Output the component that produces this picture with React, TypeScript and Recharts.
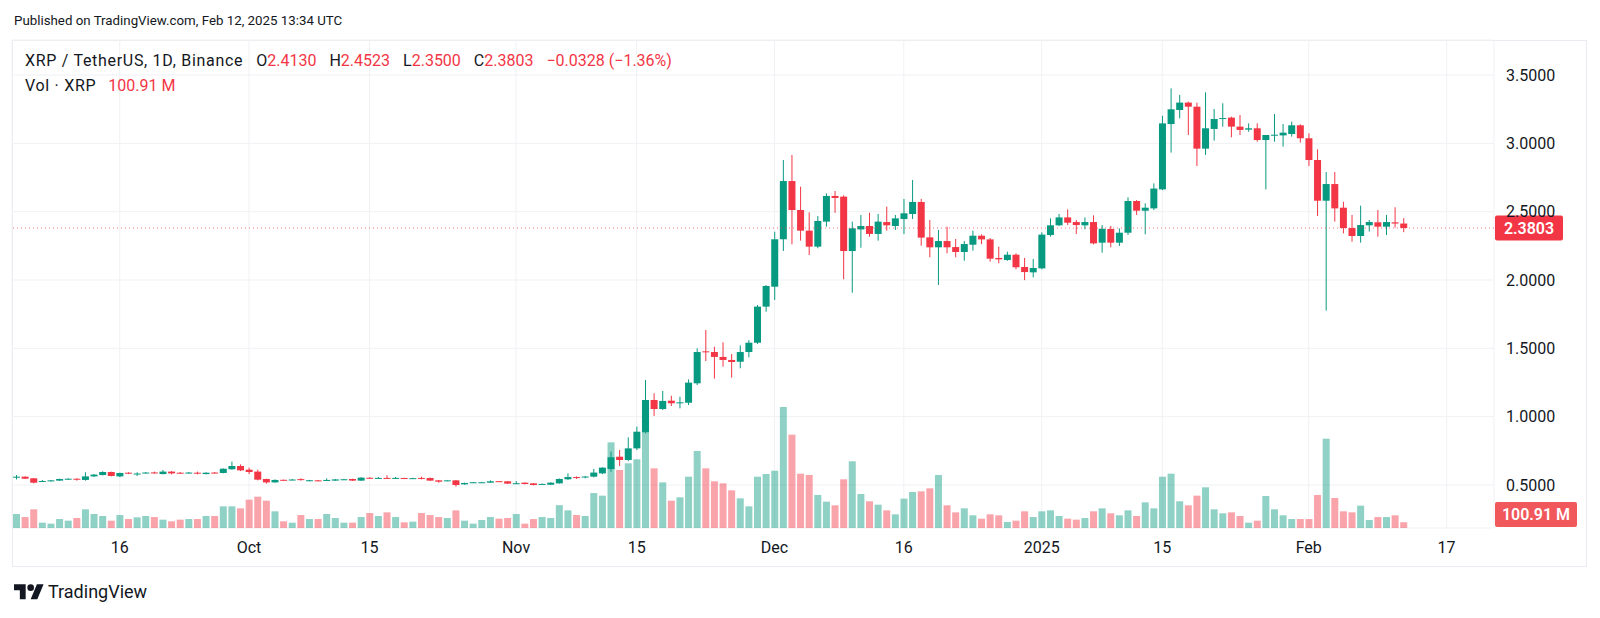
import React from "react";
import { Bar, CartesianGrid, ComposedChart, ReferenceLine, XAxis, YAxis } from "recharts";

const FONT = "Roboto, 'Noto Sans', sans-serif";
const INK = "#131722";
const UP = "#089981";
const DOWN = "#f23645";
const VOL_UP = "rgba(8, 153, 129, 0.45)";
const VOL_DOWN = "rgba(242, 54, 69, 0.45)";
const GRID = "#f0f1f4";

// chart box
const W = 1600;
const H = 618;
const MARGIN = { top: 40, right: 14, bottom: 51, left: 12 };
const TIME_AXIS_H = 39;
const PRICE_AXIS_W = 92;
const PLOT_BOTTOM = H - MARGIN.bottom - TIME_AXIS_H;

// daily sessions from 2024-09-04, plus 10 empty days of right offset
const startDay = Date.UTC(2024, 8, 4);
const dayCount = 172;
const days = Array.from({ length: dayCount }, (_, i) =>
  new Date(startDay + i * 86400000).toISOString().slice(0, 10),
);

const opens = [
  0.560, 0.561, 0.549, 0.525, 0.529, 0.532, 0.541, 0.546, 0.537, 0.563,
  0.573, 0.595, 0.563, 0.590, 0.582, 0.588, 0.592, 0.580, 0.598, 0.590,
  0.588, 0.590, 0.580, 0.591, 0.588, 0.615, 0.639, 0.612, 0.598, 0.544,
  0.519, 0.538, 0.537, 0.543, 0.533, 0.534, 0.535, 0.532, 0.540, 0.544,
  0.532, 0.553, 0.550, 0.552, 0.549, 0.551, 0.548, 0.552, 0.551, 0.534,
  0.532, 0.534, 0.505, 0.518, 0.518, 0.517, 0.528, 0.527, 0.511, 0.517,
  0.512, 0.506, 0.502, 0.512, 0.542, 0.558, 0.556, 0.561, 0.585, 0.617,
  0.707, 0.683, 0.768, 0.886, 1.122, 1.056, 1.117, 1.100, 1.102, 1.244,
  1.478, 1.473, 1.437, 1.415, 1.402, 1.473, 1.541, 1.805, 1.951, 2.298,
  2.724, 2.512, 2.361, 2.244, 2.427, 2.615, 2.610, 2.212, 2.370, 2.395,
  2.337, 2.424, 2.395, 2.446, 2.483, 2.571, 2.312, 2.239, 2.285, 2.241,
  2.205, 2.258, 2.324, 2.297, 2.161, 2.146, 2.185, 2.095, 2.056, 2.085,
  2.329, 2.400, 2.458, 2.424, 2.400, 2.424, 2.273, 2.373, 2.273, 2.346,
  2.578, 2.507, 2.524, 2.663, 3.141, 3.244, 3.298, 3.268, 2.961, 3.105,
  3.180, 3.188, 3.122, 3.100, 3.110, 3.024, 3.061, 3.058, 3.068, 3.132,
  3.037, 2.878, 2.580, 2.702, 2.529, 2.380, 2.322, 2.400, 2.422, 2.390,
  2.422, 2.413,
];

const highs = [
  0.573, 0.563, 0.551, 0.537, 0.537, 0.546, 0.549, 0.549, 0.593, 0.580,
  0.600, 0.598, 0.590, 0.593, 0.593, 0.595, 0.598, 0.610, 0.602, 0.595,
  0.595, 0.598, 0.593, 0.595, 0.622, 0.671, 0.651, 0.627, 0.612, 0.546,
  0.541, 0.540, 0.544, 0.549, 0.537, 0.537, 0.549, 0.544, 0.545, 0.546,
  0.556, 0.556, 0.559, 0.571, 0.559, 0.553, 0.553, 0.561, 0.554, 0.536,
  0.537, 0.537, 0.517, 0.522, 0.523, 0.534, 0.529, 0.529, 0.529, 0.519,
  0.514, 0.510, 0.520, 0.548, 0.585, 0.563, 0.566, 0.617, 0.630, 0.744,
  0.756, 0.849, 0.927, 1.268, 1.171, 1.188, 1.153, 1.146, 1.273, 1.500,
  1.634, 1.512, 1.544, 1.458, 1.522, 1.560, 1.817, 1.963, 2.353, 2.878,
  2.915, 2.683, 2.495, 2.468, 2.634, 2.651, 2.620, 2.427, 2.476, 2.492,
  2.483, 2.537, 2.476, 2.593, 2.732, 2.593, 2.439, 2.366, 2.390, 2.300,
  2.285, 2.361, 2.334, 2.307, 2.244, 2.207, 2.195, 2.161, 2.154, 2.349,
  2.451, 2.483, 2.517, 2.439, 2.458, 2.473, 2.402, 2.395, 2.378, 2.605,
  2.585, 2.561, 2.707, 3.202, 3.402, 3.354, 3.305, 3.298, 3.373, 3.251,
  3.293, 3.195, 3.207, 3.146, 3.146, 3.061, 3.215, 3.141, 3.159, 3.139,
  3.073, 2.956, 2.790, 2.790, 2.573, 2.476, 2.544, 2.439, 2.512, 2.476,
  2.532, 2.4523,
];

const lows = [
  0.541, 0.544, 0.512, 0.522, 0.525, 0.530, 0.539, 0.532, 0.532, 0.559,
  0.570, 0.563, 0.558, 0.580, 0.566, 0.585, 0.583, 0.578, 0.578, 0.583,
  0.585, 0.578, 0.578, 0.585, 0.585, 0.612, 0.602, 0.580, 0.534, 0.510,
  0.517, 0.533, 0.534, 0.532, 0.527, 0.527, 0.532, 0.530, 0.538, 0.529,
  0.530, 0.544, 0.547, 0.544, 0.544, 0.546, 0.546, 0.541, 0.530, 0.517,
  0.530, 0.488, 0.502, 0.515, 0.516, 0.515, 0.524, 0.508, 0.508, 0.505,
  0.497, 0.502, 0.500, 0.510, 0.537, 0.544, 0.549, 0.556, 0.580, 0.597,
  0.639, 0.675, 0.756, 0.878, 1.005, 1.049, 1.078, 1.061, 1.085, 1.232,
  1.407, 1.278, 1.366, 1.285, 1.354, 1.434, 1.532, 1.768, 1.854, 2.212,
  2.261, 2.288, 2.183, 2.232, 2.390, 2.492, 2.005, 1.907, 2.236, 2.317,
  2.288, 2.361, 2.366, 2.337, 2.446, 2.251, 2.166, 1.963, 2.195, 2.166,
  2.141, 2.215, 2.263, 2.134, 2.122, 2.141, 2.078, 1.999, 2.019, 2.078,
  2.317, 2.395, 2.402, 2.337, 2.371, 2.261, 2.200, 2.239, 2.249, 2.329,
  2.476, 2.334, 2.512, 2.658, 2.932, 3.183, 3.061, 2.834, 2.915, 3.020,
  3.122, 3.044, 3.061, 3.085, 3.012, 2.663, 3.012, 2.976, 3.049, 3.005,
  2.834, 2.468, 1.776, 2.427, 2.341, 2.280, 2.273, 2.354, 2.317, 2.329,
  2.383, 2.350,
];

const closes = [
  0.561, 0.546, 0.517, 0.529, 0.534, 0.544, 0.546, 0.539, 0.563, 0.576,
  0.595, 0.566, 0.588, 0.583, 0.584, 0.591, 0.589, 0.598, 0.585, 0.588,
  0.591, 0.583, 0.590, 0.589, 0.619, 0.639, 0.607, 0.595, 0.539, 0.519,
  0.537, 0.536, 0.540, 0.540, 0.535, 0.529, 0.537, 0.541, 0.542, 0.532,
  0.554, 0.550, 0.552, 0.549, 0.552, 0.549, 0.550, 0.549, 0.532, 0.524,
  0.534, 0.500, 0.515, 0.520, 0.520, 0.527, 0.526, 0.510, 0.513, 0.507,
  0.500, 0.508, 0.517, 0.544, 0.558, 0.553, 0.562, 0.591, 0.627, 0.703,
  0.683, 0.768, 0.890, 1.122, 1.056, 1.115, 1.098, 1.105, 1.249, 1.473,
  1.473, 1.437, 1.415, 1.400, 1.473, 1.541, 1.805, 1.956, 2.298, 2.724,
  2.512, 2.361, 2.244, 2.432, 2.615, 2.600, 2.212, 2.378, 2.395, 2.337,
  2.427, 2.400, 2.451, 2.488, 2.571, 2.310, 2.239, 2.285, 2.239, 2.205,
  2.263, 2.324, 2.297, 2.156, 2.151, 2.185, 2.093, 2.058, 2.088, 2.332,
  2.400, 2.458, 2.419, 2.402, 2.424, 2.268, 2.375, 2.273, 2.346, 2.578,
  2.507, 2.529, 2.669, 3.146, 3.249, 3.298, 3.268, 2.961, 3.110, 3.178,
  3.185, 3.122, 3.098, 3.110, 3.024, 3.061, 3.063, 3.078, 3.132, 3.037,
  2.878, 2.580, 2.702, 2.524, 2.380, 2.322, 2.402, 2.424, 2.390, 2.424,
  2.4131, 2.3803,
];

// volume in millions of XRP
const volumes = [
  245, 192, 327, 93, 76, 157, 128, 175, 327, 245,
  210, 128, 227, 157, 187, 210, 192, 146, 117, 146,
  157, 157, 210, 210, 379, 379, 344, 496, 548, 478,
  292, 117, 93, 227, 157, 157, 245, 175, 93, 93,
  192, 262, 210, 274, 192, 99, 111, 262, 227, 192,
  175, 309, 128, 76, 140, 192, 163, 175, 245, 76,
  157, 192, 175, 400, 309, 227, 210, 612, 566, 1499,
  1015, 1132, 1202, 1995, 1044, 799, 478, 537, 898, 1348,
  1044, 817, 782, 659, 519, 379, 898, 945, 1003, 2118,
  1633, 950, 928, 578, 461, 397, 852, 1167, 595, 467,
  408, 309, 239, 513, 630, 642, 694, 928, 397, 274,
  344, 222, 163, 239, 222, 105, 128, 292, 192, 292,
  309, 210, 163, 146, 175, 292, 344, 257, 222, 309,
  210, 449, 344, 898, 951, 467, 397, 566, 712, 327,
  257, 274, 210, 93, 128, 560, 327, 222, 157, 157,
  157, 578, 1563, 525, 292, 274, 391, 140, 192, 192,
  222, 100.91,
];

const tickDays = [
  "2024-09-16", "2024-10-01", "2024-10-15", "2024-11-01", "2024-11-15", "2024-12-01",
  "2024-12-16", "2025-01-01", "2025-01-15", "2025-02-01", "2025-02-17",
];
const tickLabels = ["16", "Oct", "15", "Nov", "15", "Dec", "16", "2025", "15", "Feb", "17"];
const priceTicks = [0.5, 1, 1.5, 2, 2.5, 3, 3.5];

const priceDomain = [0.1854, 3.756];
const volDomain = [0, 8540];

const data = days.map((d, i) =>
  i < opens.length
    ? { d, open: opens[i], high: highs[i], low: lows[i], close: closes[i], vol: volumes[i] }
    : { d },
);

const last = opens.length - 1;
const lastOpen = opens[last];
const lastClose = closes[last];
const prevClose = closes[last - 1];
const change = lastClose - prevClose;
const changePct = (change / prevClose) * 100;
const fmtSigned = (v: number, digits: number) => (v < 0 ? "\u2212" : "+") + Math.abs(v).toFixed(digits);

function Candle(props: any) {
  const { x, y, width, height, payload } = props;
  if (!payload || payload.open == null || !Number.isFinite(y) || !Number.isFinite(height)) return null;
  const { open, high, low, close } = payload;
  const span = high - low;
  const py = (v: number) => (span > 0 ? y + ((high - v) / span) * height : y);
  const color = close >= open ? UP : DOWN;
  const cx = x + width / 2;
  const top = py(Math.max(open, close));
  const bot = py(Math.min(open, close));
  return (
    <g>
      <line x1={cx} x2={cx} y1={y} y2={y + height} stroke={color} strokeWidth={1} />
      <rect x={x} y={top} width={width} height={Math.max(1, bot - top)} fill={color} />
    </g>
  );
}

function VolumeBar(props: any) {
  const { x, y, width, height, payload } = props;
  if (!payload || payload.vol == null || !Number.isFinite(y) || !Number.isFinite(height)) return null;
  return (
    <rect
      x={x}
      y={y}
      width={width}
      height={Math.max(0, height)}
      fill={payload.close >= payload.open ? VOL_UP : VOL_DOWN}
    />
  );
}

function TimeTick(props: any) {
  const { x, y, payload } = props;
  const i = tickDays.indexOf(payload.value);
  return (
    <text x={x} y={y} dy={25} textAnchor="middle" fontSize={16} fill={INK} fontFamily={FONT}>
      {tickLabels[i]}
    </text>
  );
}

function PriceTick(props: any) {
  const { x, y, payload } = props;
  return (
    <text x={x} y={y} dx={12} dy={5.6} textAnchor="start" fontSize={16} fill={INK} fontFamily={FONT}>
      {Number(payload.value).toFixed(4)}
    </text>
  );
}

function PriceTag(props: any) {
  const vb = props.viewBox;
  if (!vb) return null;
  const left = vb.x + vb.width + 1;
  return (
    <g>
      <rect x={left} y={vb.y - 12.5} width={68} height={25} rx={2} fill={DOWN} />
      <text x={left + 34} y={vb.y} dy={5.6} textAnchor="middle" fontSize={16} fontWeight={600} fill="#fff" fontFamily={FONT}>
        {lastClose.toFixed(4)}
      </text>
    </g>
  );
}

function VolumeTag(props: any) {
  const vb = props.viewBox;
  if (!vb) return null;
  const left = vb.x + vb.width + 1;
  const top = Math.min(vb.y - 12.5, PLOT_BOTTOM - 26);
  return (
    <g>
      <rect x={left} y={top} width={82} height={25} rx={2} fill="#f0585c" />
      <text x={left + 41} y={top + 12.5} dy={5.6} textAnchor="middle" fontSize={16} fontWeight={600} fill="#fff" fontFamily={FONT}>
        {volumes[last].toFixed(2)} M
      </text>
    </g>
  );
}

const red = { color: DOWN };

export default function App() {
  return (
    <div
      style={{
        position: "absolute",
        left: 0,
        top: 0,
        width: W,
        height: H,
        background: "#fff",
        fontFamily: FONT,
        color: INK,
        overflow: "hidden",
      }}
    >
      <div
        style={{
          position: "absolute",
          left: 12,
          top: 40,
          width: 1575,
          height: 527,
          border: "1px solid #e9ebf0",
          boxSizing: "border-box",
        }}
      />
      <div style={{ position: "absolute", left: 0, top: 0 }}>
        <ComposedChart width={W} height={H} data={data} margin={MARGIN}>
          <CartesianGrid xAxisId="main" yAxisId="price" stroke={GRID} />
          <XAxis
            xAxisId="main"
            dataKey="d"
            ticks={tickDays}
            interval={0}
            height={TIME_AXIS_H}
            axisLine={false}
            tickLine={false}
            tickSize={0}
            tickMargin={0}
            tick={<TimeTick />}
          />
          <XAxis xAxisId="vol" dataKey="d" hide />
          <YAxis
            yAxisId="price"
            orientation="right"
            domain={priceDomain}
            ticks={priceTicks}
            allowDataOverflow
            width={PRICE_AXIS_W}
            axisLine={false}
            tickLine={false}
            tickSize={0}
            tickMargin={0}
            tick={<PriceTick />}
          />
          <YAxis yAxisId="vol" domain={volDomain} allowDataOverflow hide />
          <Bar
            xAxisId="vol"
            yAxisId="vol"
            dataKey="vol"
            barSize={7}
            shape={<VolumeBar />}
            isAnimationActive={false}
          />
          <Bar
            xAxisId="main"
            yAxisId="price"
            dataKey={(e: any) => (e.high == null ? null : [e.low, e.high])}
            barSize={7}
            shape={<Candle />}
            isAnimationActive={false}
          />
          <ReferenceLine
            xAxisId="main"
            yAxisId="price"
            y={lastClose}
            stroke={DOWN}
            strokeOpacity={0.7}
            strokeDasharray="1 3"
            label={<PriceTag />}
          />
          <ReferenceLine
            xAxisId="main"
            yAxisId="vol"
            y={volumes[last]}
            stroke="none"
            label={<VolumeTag />}
          />
        </ComposedChart>
      </div>

      <div style={{ position: "absolute", left: 14, top: 11, fontSize: 13.3, lineHeight: "20px", whiteSpace: "nowrap" }}>
        Published on TradingView.com, Feb 12, 2025 13:34 UTC
      </div>

      <div
        style={{
          position: "absolute",
          left: 25,
          top: 51,
          fontSize: 16,
          lineHeight: "20px",
          whiteSpace: "nowrap",
          display: "flex",
          gap: 13,
        }}
      >
        <span style={{ letterSpacing: 0.7 }}>XRP / TetherUS, 1D, Binance</span>
        <span>
          O<span style={red}>{lastOpen.toFixed(4)}</span>
        </span>
        <span>
          H<span style={red}>{highs[last].toFixed(4)}</span>
        </span>
        <span>
          L<span style={red}>{lows[last].toFixed(4)}</span>
        </span>
        <span>
          C<span style={red}>{lastClose.toFixed(4)}</span>
        </span>
        <span style={red}>
          {fmtSigned(change, 4)} ({fmtSigned(changePct, 2)}%)
        </span>
      </div>
      <div
        style={{
          position: "absolute",
          left: 25,
          top: 76,
          fontSize: 16,
          lineHeight: "20px",
          whiteSpace: "nowrap",
          display: "flex",
          gap: 12,
        }}
      >
        <span style={{ letterSpacing: 0.7 }}>Vol · XRP</span>
        <span style={red}>{volumes[last].toFixed(2)} M</span>
      </div>

      <svg
        style={{ position: "absolute", left: 14, top: 581 }}
        width={30}
        height={23.3}
        viewBox="0 0 36 28"
      >
        <path d="M14 22H7V11H0V4h14v18zM28 22h-8l7.5-18h8L28 22z" fill={INK} />
        <circle cx={20} cy={8} r={4} fill={INK} />
      </svg>
      <div style={{ position: "absolute", left: 48, top: 580, fontSize: 18, lineHeight: "24px", whiteSpace: "nowrap" }}>
        TradingView
      </div>
    </div>
  );
}
